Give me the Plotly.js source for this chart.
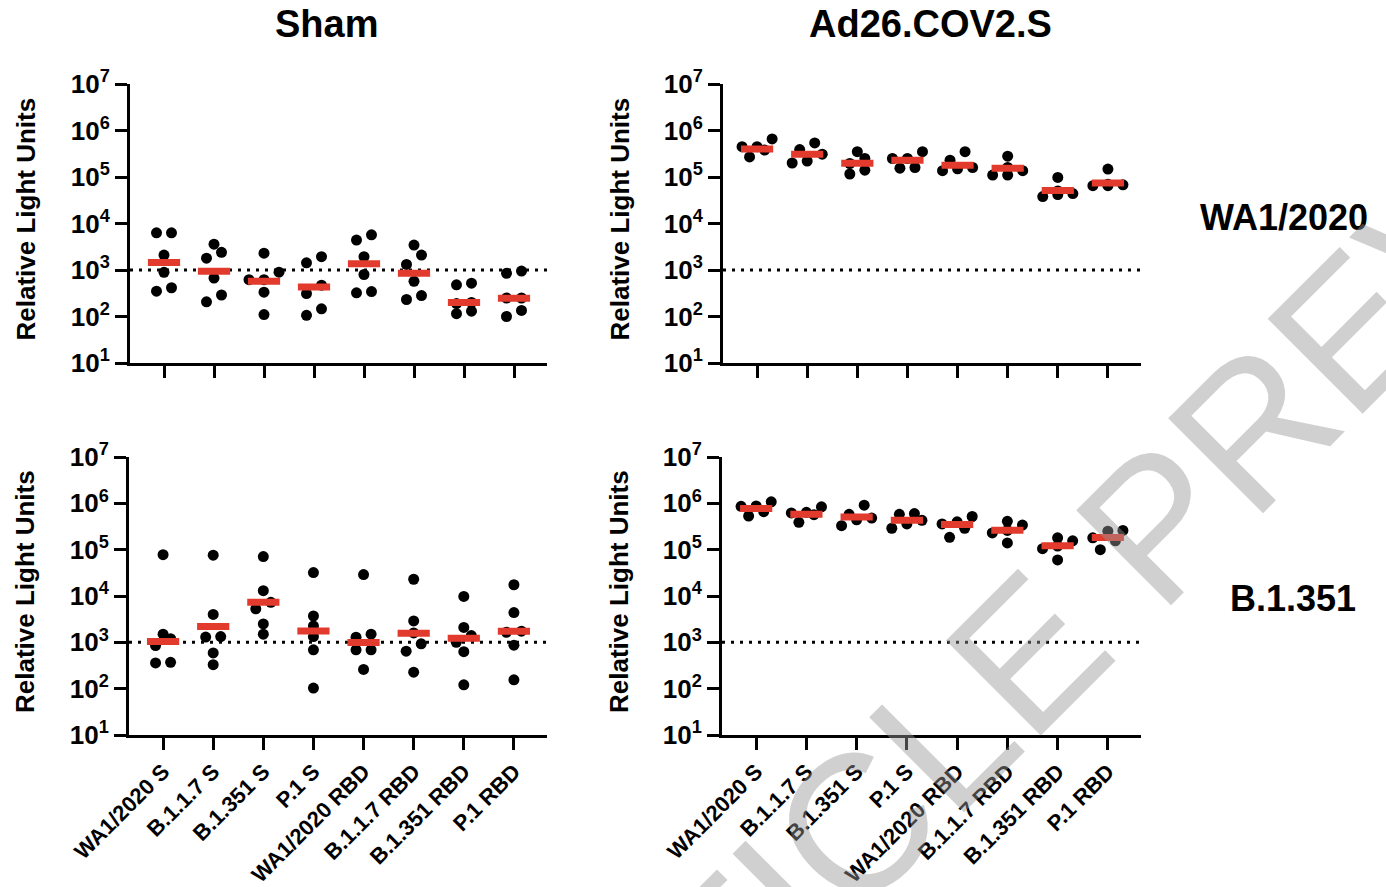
<!DOCTYPE html>
<html><head><meta charset="utf-8">
<script src="https://cdn.plot.ly/plotly-3.0.1.min.js"></script>
<style>html,body{margin:0;padding:0;background:#fff}#chart{width:1386px;height:887px}</style>
</head><body><div id="chart"></div>
<script>
// ---------- DATA ----------
const categories = ['WA1/2020 S','B.1.1.7 S','B.1.351 S','P.1 S','WA1/2020 RBD','B.1.1.7 RBD','B.1.351 RBD','P.1 RBD'];
const yTickVals = [10, 100, 1000, 1e4, 1e5, 1e6, 1e7];
const yTickText = ['10<sup>1</sup>','10<sup>2</sup>','10<sup>3</sup>','10<sup>4</sup>','10<sup>5</sup>','10<sup>6</sup>','10<sup>7</sup>'];
const limitOfDetection = 1000;
const columnTitles = ['Sham', 'Ad26.COV2.S'];
const rowTitles = ['WA1/2020', 'B.1.351'];
const yTitle = 'Relative Light Units';
const watermark = 'ARTICLE PREVIEW';

// Sham animals, WA1/2020 challenge
const shamWA = [
  [6300, 6300, 2100, 890, 350, 415],
  [2400, 3600, 1800, 670, 207, 290],
  [2300, 900, 620, 620, 333, 110],
  [1430, 1930, 472, 312, 106, 146],
  [4400, 5700, 1930, 800, 323, 344],
  [3440, 2090, 1320, 570, 232, 282],
  [480, 520, 200, 190, 115, 130],
  [850, 950, 250, 250, 100, 135]
];
const shamWAMedian = [1450, 940, 575, 430, 1360, 850, 200, 248];

// Ad26.COV2.S animals, WA1/2020 challenge
const vaxWA = [
  [2.7e5, 4.5e5, 4.5e5, 3.8e5, 6.6e5],
  [5.4e5, 2.0e5, 3.1e5, 3.9e5, 2.2e5],
  [3.5e5, 1.16e5, 1.95e5, 2.5e5, 1.4e5],
  [2.5e5, 1.55e5, 2.5e5, 1.6e5, 3.5e5],
  [2.3e5, 1.37e5, 3.5e5, 1.5e5, 1.6e5],
  [1.6e5, 1.1e5, 2.8e5, 1.1e5, 1.37e5],
  [9.8e4, 4.4e4, 5.0e4, 3.8e4, 4.2e4],
  [1.48e5, 6.5e4, 7.0e4, 6.5e4, 6.8e4]
];
const vaxWAMedian = [4.0e5, 3.1e5, 1.97e5, 2.3e5, 1.8e5, 1.55e5, 5.1e4, 7.4e4];

// Sham animals, B.1.351 challenge
const shamB = [
  [7.8e4, 1500, 1200, 850, 360, 370],
  [7.6e4, 4000, 1300, 1330, 590, 330],
  [7.1e4, 1.3e4, 7300, 5300, 2500, 1500],
  [3.2e4, 3700, 2260, 1330, 690, 103],
  [2.9e4, 1500, 1290, 690, 690, 260],
  [2.3e4, 2900, 1600, 930, 645, 227],
  [9800, 2100, 1400, 1000, 630, 121],
  [1.75e4, 4400, 1740, 1650, 870, 155]
];
const shamBMedian = [1040, 2200, 7300, 1760, 990, 1570, 1230, 1730];

// Ad26.COV2.S animals, B.1.351 challenge
const vaxB = [
  [8.8e5, 8.6e5, 5.3e5, 6.6e5, 1.08e6],
  [5.7e5, 3.9e5, 8.4e5, 6.4e5, 6.2e5],
  [5.8e5, 3.3e5, 9.1e5, 4.4e5, 4.8e5],
  [2.9e5, 6.0e5, 5.8e5, 3.6e5, 4.3e5],
  [4.0e5, 1.85e5, 3.6e5, 5.2e5, 2.9e5],
  [3.4e5, 4.1e5, 1.4e5, 2.3e5, 2.6e5],
  [1.8e5, 6.0e4, 1.2e5, 1.55e5, 1.05e5],
  [2.6e5, 1.0e5, 2.5e5, 1.55e5, 1.8e5]
];
const vaxBMedian = [7.7e5, 5.8e5, 5.1e5, 4.3e5, 3.5e5, 2.64e5, 1.21e5, 1.83e5];

// ---------- LAYOUT HELPERS ----------
const W = 1386, H = 887;
const FONT = 'Liberation Sans, Arial, Helvetica, sans-serif';
const XR = [-0.68, 7.66];
const STEP = 0.3, ROWTOL = 0.2, ROWMAX = 3;

// simple centred swarm: points of similar value share a row, spread symmetrically
function swarm(vals) {
  const idx = vals.map((v, i) => i).sort((a, b) => vals[a] - vals[b]);
  const out = new Array(vals.length).fill(0);
  let row = [], base = null;
  const flush = () => { row.forEach((k, j) => { out[k] = (j - (row.length - 1) / 2) * STEP; }); row = []; };
  idx.forEach(k => {
    const l = Math.log10(vals[k]);
    if (base !== null && l - base < ROWTOL && row.length < ROWMAX) row.push(k);
    else { flush(); row = [k]; base = l; }
  });
  flush();
  return out;
}

const panels = [
  {data: shamWA, med: shamWAMedian, px: [130, 547], py: [84, 363], labels: false},
  {data: vaxWA,  med: vaxWAMedian,  px: [723, 1141], py: [84, 363], labels: false},
  {data: shamB,  med: shamBMedian,  px: [129, 547], py: [457, 735], labels: true},
  {data: vaxB,   med: vaxBMedian,   px: [722, 1141], py: [457, 735], labels: true}
];

const traces = [];
const layout = {
  width: W, height: H, margin: {l: 0, r: 0, t: 0, b: 0},
  paper_bgcolor: '#fff', plot_bgcolor: '#fff', showlegend: false,
  font: {family: FONT, color: '#000'},
  annotations: [], shapes: []
};

panels.forEach((p, k) => {
  const n = k + 1;
  const xa = 'x' + (n === 1 ? '' : n), ya = 'y' + (n === 1 ? '' : n);
  const xs = [], ys = [];
  p.data.forEach((vals, i) => {
    const off = swarm(vals);
    vals.forEach((v, j) => { xs.push(i + off[j]); ys.push(v); });
  });
  traces.push({type: 'scatter', mode: 'lines', xaxis: xa, yaxis: ya,
    x: XR, y: [limitOfDetection, limitOfDetection],
    line: {color: '#000', width: 3, dash: '3px,6px'}, hoverinfo: 'skip'});
  traces.push({type: 'scatter', mode: 'markers', xaxis: xa, yaxis: ya, x: xs, y: ys,
    marker: {color: '#000', size: 11, line: {width: 0}}});
  traces.push({type: 'scatter', mode: 'markers', xaxis: xa, yaxis: ya,
    x: categories.map((c, i) => i), y: p.med,
    marker: {symbol: 'line-ew', size: 23, line: {color: '#e23b2e', width: 7}}});

  const axKey = 'xaxis' + (n === 1 ? '' : n), ayKey = 'yaxis' + (n === 1 ? '' : n);
  layout[axKey] = {
    domain: [p.px[0] / W, p.px[1] / W], anchor: ya, range: XR,
    tickmode: 'array', tickvals: categories.map((c, i) => i), ticktext: categories,
    showticklabels: p.labels, tickangle: -45,
    tickfont: {size: 22, family: FONT, weight: 'bold', color: '#000'},
    ticks: 'outside', ticklen: 12, tickwidth: 3, tickcolor: '#000',
    showline: true, linewidth: 3, linecolor: '#000', showgrid: false, zeroline: false
  };
  layout[ayKey] = {
    domain: [1 - p.py[1] / H, 1 - p.py[0] / H], anchor: xa, type: 'log', range: [1, 7],
    tickmode: 'array', tickvals: yTickVals, ticktext: yTickText,
    tickfont: {size: 26, family: FONT, weight: 'bold', color: '#000'},
    ticks: 'outside', ticklen: 12, tickwidth: 3, tickcolor: '#000',
    showline: true, linewidth: 3, linecolor: '#000', showgrid: false, zeroline: false
  };
  layout.annotations.push({
    text: yTitle, textangle: -90, xref: 'paper', yref: 'paper',
    x: (k % 2 === 0 ? 25 : 619) / W, y: 1 - ((p.py[0] + p.py[1]) / 2 - 4) / H,
    xanchor: 'center', yanchor: 'middle', showarrow: false,
    font: {size: 26, family: FONT, weight: 'bold', color: '#000'}
  });
});

columnTitles.forEach((t, i) => {
  layout.annotations.push({text: t, xref: 'paper', yref: 'paper',
    x: [326, 930][i] / W, y: 1 - 24 / H, xanchor: 'center', yanchor: 'middle', showarrow: false,
    font: {size: 38, family: FONT, weight: 'bold', color: '#000'}});
});
rowTitles.forEach((t, i) => {
  layout.annotations.push({text: t, xref: 'paper', yref: 'paper',
    x: [1284, 1293][i] / W, y: 1 - [218, 598][i] / H, xanchor: 'center', yanchor: 'middle', showarrow: false,
    font: {size: 36, family: FONT, weight: 'bold', color: '#000'}});
});
layout.annotations.push({text: watermark, xref: 'paper', yref: 'paper',
  x: 1120 / W, y: 1 - 560 / H, xanchor: 'center', yanchor: 'middle', showarrow: false,
  textangle: -45, font: {size: 195, family: FONT, color: 'rgba(150,150,150,0.45)'}});

Plotly.newPlot('chart', traces, layout, {staticPlot: true, displayModeBar: false});
</script></body></html>
